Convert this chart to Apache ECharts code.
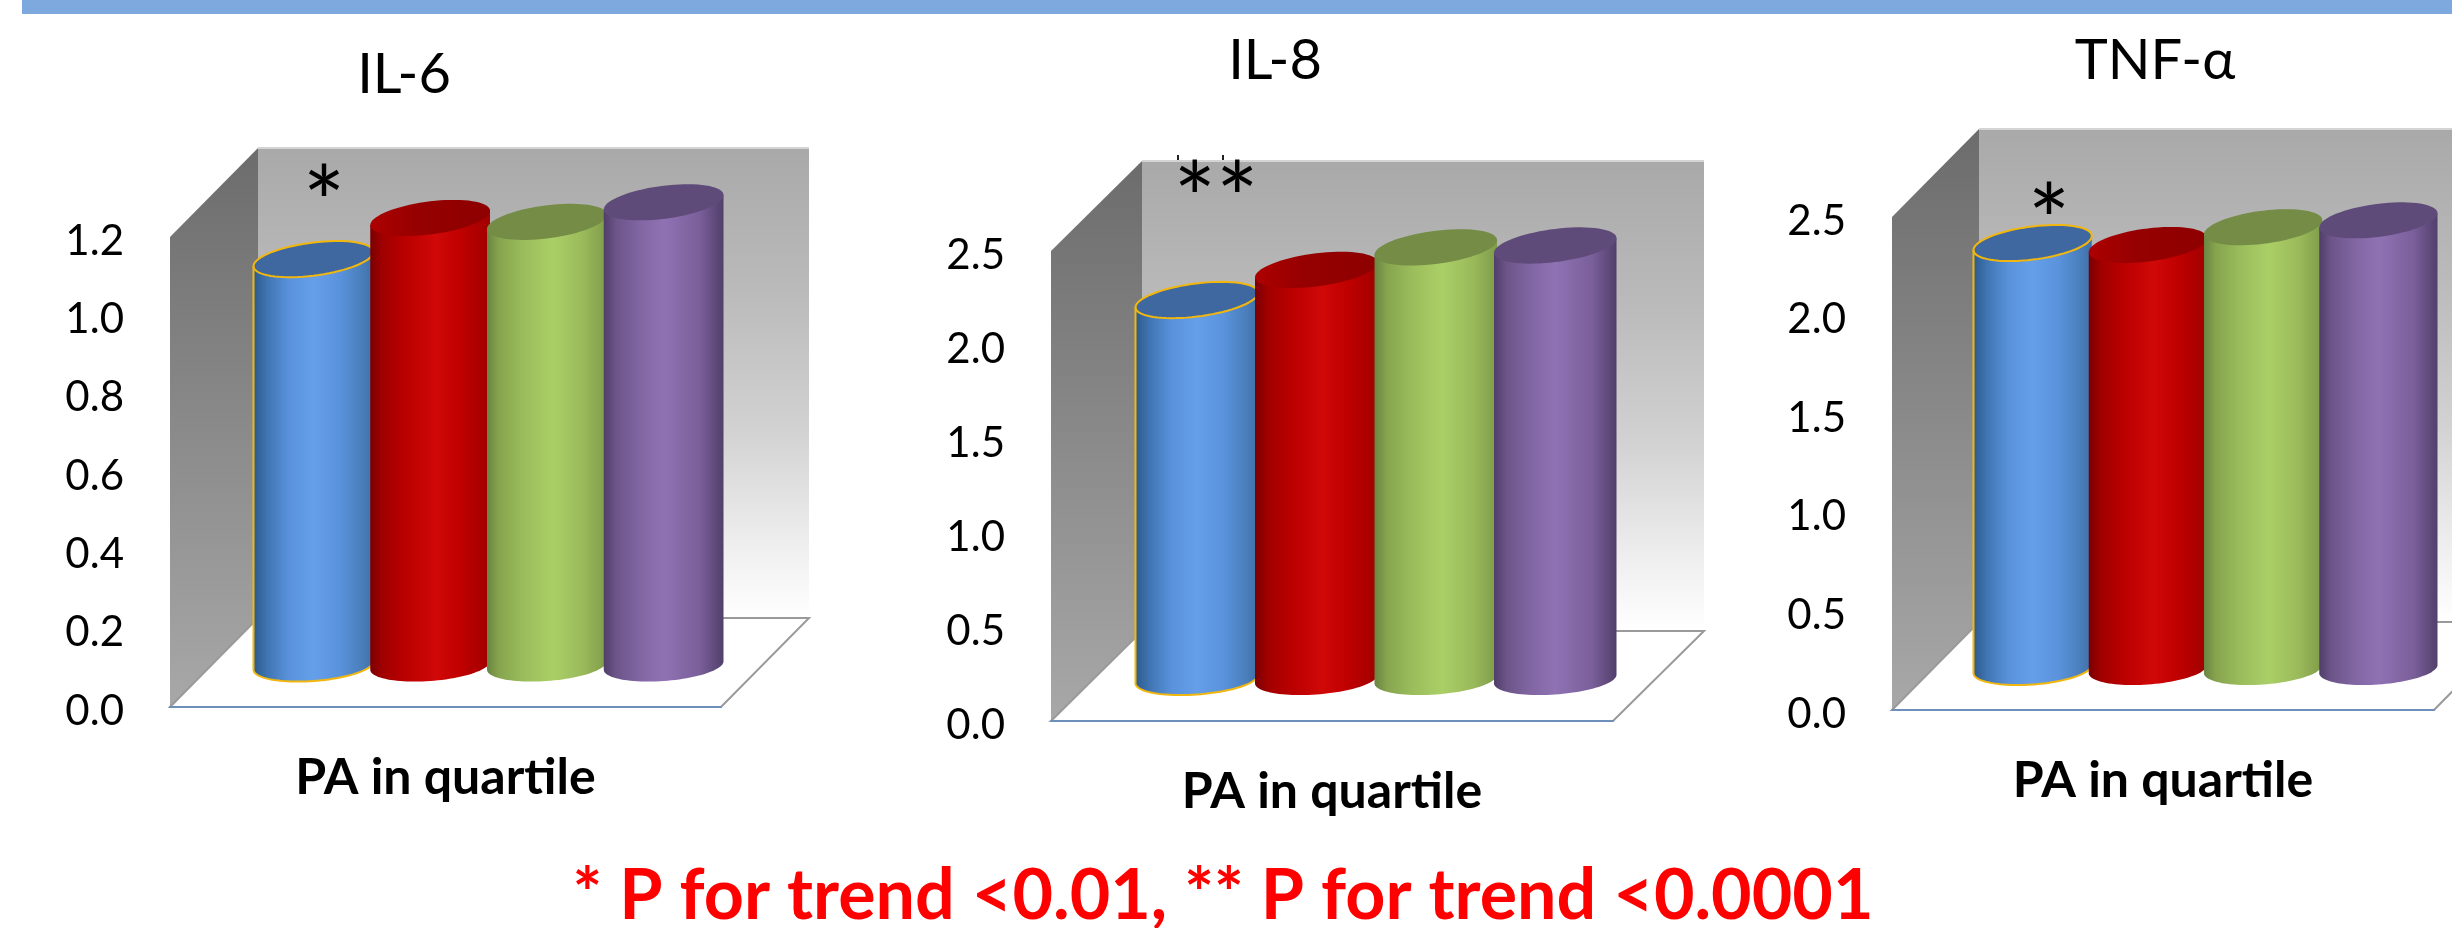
<!DOCTYPE html>
<html>
<head>
<meta charset="utf-8">
<style>html,body{margin:0;padding:0;background:#fff}#c{width:2452px;height:928px}</style>
<script src="https://cdn.jsdelivr.net/npm/echarts@6/dist/echarts.min.js"></script>
</head>
<body>
<div id="c"></div>
<script>
// ---- data ----
const quartiles = ['Q1', 'Q2', 'Q3', 'Q4'];
const panelTitles = ['IL-6', 'IL-8', 'TNF-α'];
const il6Values = [1.03, 1.135, 1.125, 1.175];
const il8Values = [2.0, 2.16, 2.28, 2.29];
const tnfValues = [2.145, 2.135, 2.225, 2.26];
const axisMaxes = [1.2, 2.5, 2.5];
const axisSteps = [0.2, 0.5, 0.5];
const xAxisTitle = 'PA in quartile';
const footnote = '* P for trend <0.01, ** P for trend <0.0001';
const markers = ['*', '**', '*'];

// ---- layout ----
const panels = [
  {values: il6Values, left: 170, top: 237, width: 551, height: 470, dx: 88, dy: 89, barLeft: 255, barW: 467, tx: 399, ty: 67, mx: 324, my: 188},
  {values: il8Values, left: 1051, top: 251, width: 562, height: 470, dx: 91, dy: 90, barLeft: 1137, barW: 478, tx: 1270, ty: 53, mx: 1216, my: 184},
  {values: tnfValues, left: 1892, top: 217, width: 542, height: 493, dx: 87, dy: 88, barLeft: 1975, barW: 461, tx: 2150, ty: 53, mx: 2049, my: 206}
];
const barStyles = [
  {side: [[0,'#2d5a8c'],[0.12,'#4176b4'],[0.3,'#5a93dc'],[0.5,'#659fe9'],[0.72,'#5a93dc'],[0.9,'#4a7fbc'],[1,'#3f6fa8']], cap: [[0,'#3e689f'],[1,'#3e689f']], outline: '#f2b70f'},
  {side: [[0,'#7a0000'],[0.1,'#a00000'],[0.3,'#bb0000'],[0.55,'#d00808'],[0.75,'#c00000'],[1,'#a00000']], cap: [[0,'#ad0000'],[0.4,'#960000'],[1,'#8e0000']]},
  {side: [[0,'#6a8541'],[0.1,'#86a44e'],[0.3,'#9abc5b'],[0.55,'#abcf67'],[0.8,'#9aba5a'],[1,'#7f9c4a']], cap: [[0,'#748c45'],[1,'#748c45']]},
  {side: [[0,'#4f3e69'],[0.1,'#6c5488'],[0.3,'#8166a3'],[0.5,'#8f72b3'],[0.8,'#7a5f9a'],[1,'#513f6b']], cap: [[0,'#5f4b79'],[1,'#5f4b79']]}
];
const FONT = 'Lato';
const capB = 16.6, capShear = 0.12, footB = 15.5, footShear = 0.07, footDrop = 3;

function vGrad(stops) {
  return new echarts.graphic.LinearGradient(0, 0, 0, 1, stops.map(s => ({offset: s[0], color: s[1]})));
}
function hGrad(stops) {
  return new echarts.graphic.LinearGradient(0, 0, 1, 0, stops.map(s => ({offset: s[0], color: s[1]})));
}
function ellipsePts(cx, cy, a, b, shear, from, to, n) {
  const pts = [];
  for (let i = 0; i <= n; i++) {
    const t = from + (to - from) * i / n;
    pts.push([cx + a * Math.cos(t), cy + b * Math.sin(t) - shear * a * Math.cos(t)]);
  }
  return pts;
}

function wallsItem(p) {
  return function (params, api) {
    const g = params.coordSys;
    const L = g.x, T = g.y, R = g.x + g.width, B = g.y + g.height;
    const dx = p.dx, dy = p.dy;
    return {type: 'group', children: [
      {type: 'rect', shape: {x: L + dx, y: T - dy, width: g.width, height: g.height},
        style: {fill: vGrad([[0,'#a9a9a9'],[0.3,'#bababa'],[0.6,'#d2d2d2'],[0.85,'#efefef'],[1,'#ffffff']])}},
      {type: 'line', shape: {x1: L + dx, y1: T - dy, x2: R + dx, y2: T - dy}, style: {stroke: '#d4d4d4', lineWidth: 2}},
      {type: 'polygon', shape: {points: [[L, T], [L + dx, T - dy], [L + dx, B - dy], [L, B]]},
        style: {fill: vGrad([[0,'#6c6c6c'],[1,'#a8a8a8']])}},
      {type: 'polygon', shape: {points: [[L, B], [L + dx, B - dy], [R + dx, B - dy], [R, B]]},
        style: {fill: '#ffffff', stroke: '#9a9a9a', lineWidth: 2}}
    ]};
  };
}

function cylinderItem(params, api) {
  const i = api.value(0);
  const base = api.coord([i, 0]);
  const top = api.coord([i, api.value(1)]);
  const band = api.size([1, 0])[0];
  const a = (band + 3) / 2;
  const cx = base[0];
  const st = barStyles[i];
  const lower = ellipsePts(cx, base[1] + footDrop, a, footB, footShear, 0, Math.PI, 48);
  const body = [[cx - a, top[1] + capShear * a], [cx + a, top[1] - capShear * a]].concat(lower);
  const cap = ellipsePts(cx, top[1], a, capB, capShear, 0, Math.PI * 2, 72);
  const children = [
    {type: 'polygon', shape: {points: body}, style: {fill: hGrad(st.side)}},
    {type: 'polygon', shape: {points: cap}, style: {fill: hGrad(st.cap), stroke: st.outline || null, lineWidth: st.outline ? 2 : 0}}
  ];
  if (st.outline) {
    children.push({type: 'polyline', shape: {points: lower.concat([[cx - a, top[1] + capShear * a]])},
      style: {fill: 'none', stroke: st.outline, lineWidth: 2}});
  }
  return {type: 'group', children};
}

const grids = [], xAxes = [], yAxes = [], series = [], titles = [], graphics = [];

graphics.push({type: 'rect', left: 22, top: 0, shape: {width: 2430, height: 14}, style: {fill: '#7ea9de'}, z: 10});

panels.forEach((p, k) => {
  const a = grids.length;
  // front plane: carries the tick labels and the floor edge
  grids.push({left: p.left, top: p.top, width: p.width, height: p.height, containLabel: false});
  xAxes.push({type: 'category', gridIndex: a, data: quartiles, z: 5,
    axisLine: {show: true, lineStyle: {color: '#6f8fbb', width: 2}}, axisTick: {show: false}, axisLabel: {show: false},
    name: xAxisTitle, nameLocation: 'middle', nameGap: 46,
    nameTextStyle: {fontFamily: FONT, fontSize: 50, fontWeight: 'bold', color: '#000'}});
  yAxes.push({type: 'value', gridIndex: a, min: 0, max: axisMaxes[k], interval: axisSteps[k],
    axisLine: {show: false}, axisTick: {show: false}, splitLine: {show: false},
    axisLabel: {margin: 46, verticalAlign: 'top', lineHeight: 8, fontFamily: FONT, fontSize: 42, color: '#000', formatter: v => v.toFixed(1)}});
  series.push({type: 'custom', xAxisIndex: a, yAxisIndex: a, coordinateSystem: 'cartesian2d', silent: true,
    data: [[0, 0]], renderItem: wallsItem(p), clip: false});

  // plane through the cylinder axes, half-way into the chart's depth
  const b = grids.length;
  grids.push({left: p.barLeft, top: p.top - p.dy / 2, width: p.barW, height: p.height});
  xAxes.push({type: 'category', gridIndex: b, data: quartiles, show: false});
  yAxes.push({type: 'value', gridIndex: b, min: 0, max: axisMaxes[k], interval: axisSteps[k], show: false});
  series.push({type: 'custom', name: panelTitles[k], xAxisIndex: b, yAxisIndex: b, coordinateSystem: 'cartesian2d', silent: true,
    clip: false, renderItem: cylinderItem, encode: {x: 0, y: 1},
    data: p.values.map((v, i) => [i, v])});

  titles.push({text: panelTitles[k], left: p.tx, top: p.ty - 25, textAlign: 'center',
    textStyle: {fontFamily: FONT, fontSize: 56, fontWeight: 'normal', color: '#000'}});
  graphics.push({type: 'text', x: p.mx, y: p.my + 20, z: 10,
    style: {text: markers[k], font: '100px ' + FONT, fill: '#000', textAlign: 'center', textVerticalAlign: 'middle'}});
});
graphics.push({type: 'rect', x: 1177, y: 155, shape: {width: 2, height: 5}, style: {fill: '#222'}, z: 10});
graphics.push({type: 'rect', x: 1222, y: 155, shape: {width: 2, height: 5}, style: {fill: '#222'}, z: 10});
graphics.push({type: 'text', x: 1223, y: 896, z: 10,
  style: {text: footnote, font: 'bold 70px ' + FONT, fill: '#ff0000', textAlign: 'center', textVerticalAlign: 'middle'}});

const chart = echarts.init(document.getElementById('c'), null, {renderer: 'canvas'});
chart.setOption({
  animation: false,
  backgroundColor: '#ffffff',
  title: titles,
  grid: grids,
  xAxis: xAxes,
  yAxis: yAxes,
  series: series,
  graphic: graphics
});
</script>
</body>
</html>
